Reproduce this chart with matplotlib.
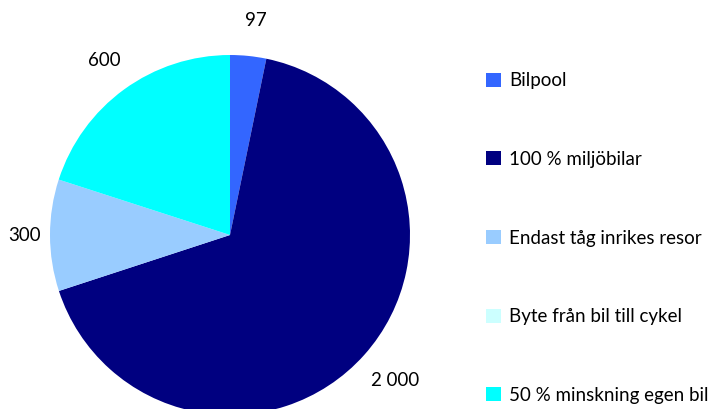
import matplotlib
matplotlib.use("Agg")
import matplotlib.pyplot as plt

categories = ["Bilpool", "100 % miljöbilar", "Endast tåg inrikes resor",
              "Byte från bil till cykel", "50 % minskning egen bil"]
values = [97, 2000, 300, 0, 600]
colors = ["#3366FF", "#000080", "#99CCFF", "#CCFFFF", "#00FFFF"]

def fmt(v):
    return "" if v == 0 else f"{v:,}".replace(",", " ")

plt.rcParams["font.family"] = ["Lato", "DejaVu Sans"]

fig = plt.figure(figsize=(7.1, 4.09), dpi=100)
ax = fig.add_axes([0, 0, 1, 1])
wedges, texts = ax.pie(values, labels=[fmt(v) for v in values], colors=colors,
                       startangle=90, counterclock=False, labeldistance=1.2,
                       radius=1.0, wedgeprops=dict(linewidth=0),
                       textprops=dict(fontsize=13.5, color="black"))
for t in texts:
    t.set_ha("center")
    t.set_va("center")
x, y = texts[0].get_position()
texts[0].set_position((x + 0.02, y + 0.0))
x, y = texts[1].get_position()
texts[1].set_position((x + 0.02, y - 0.01))
x, y = texts[2].get_position()
texts[2].set_position((x * 0.95, y))
x, y = texts[4].get_position()
texts[4].set_position((x + 0.01, y))

ax.set_aspect("auto")
ax.set_xlim(-230 / 180, 480 / 180)
ax.set_ylim(-174 / 180, 235 / 180)
ax.axis("off")

leg = fig.legend(wedges, categories, loc="center left",
                 bbox_to_anchor=(0.685, 0.418), frameon=False,
                 fontsize=13.5, handlelength=0.78, handleheight=0.78,
                 handletextpad=0.45, labelspacing=3.29, borderpad=0,
                 borderaxespad=0)

fig.savefig("out.png", dpi=100)
